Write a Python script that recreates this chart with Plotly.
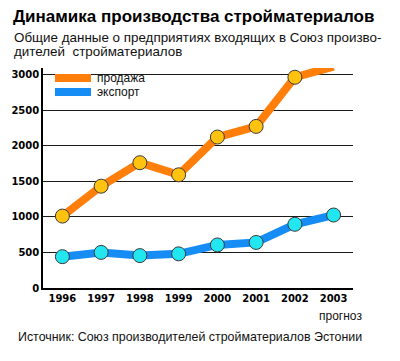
import plotly.graph_objects as go

years = ["1996", "1997", "1998", "1999", "2000", "2001", "2002", "2003"]
sales = [1010, 1430, 1760, 1590, 2120, 2270, 2960, 3110]
export = [440, 500, 455, 480, 605, 640, 895, 1025]
y_ticks = [0, 500, 1000, 1500, 2000, 2500, 3000]
series_names = ["продажа", "экспорт"]

title = "Динамика производства стройматериалов"
subtitle_lines = ["Общие данные о предприятиях входящих в Союз произво-",
                  "дителей  стройматериалов"]
source = "Источник: Союз производителей стройматериалов Эстонии"
forecast = "прогноз"

ORANGE = "#FF7F0A"
GOLD = "#FFC20E"
BLUE = "#168CF5"
CYAN = "#22E6F0"

OFF = 8  # page body margin
W, H = 400 - OFF, 361 - OFF
# target pixel positions in the 400x361 window
PL, PR, PT, PB = 43, 353, 68, 288.3
L, R, T, B = PL - OFF, W - (PR - OFF), PT - OFF, H - (PB - OFF)
pw, ph = W - L - R, H - T - B

def px(x):
    return (x - OFF - L) / pw

def py(y):
    return (H - B - (y - OFF)) / ph

fig = go.Figure()
fig.add_trace(go.Scatter(x=years, y=sales, mode="lines+markers", name=series_names[0],
                         showlegend=False,
                         line=dict(color=ORANGE, width=8),
                         marker=dict(size=14, color=GOLD, line=dict(color="#3a3a3a", width=1)),
                         cliponaxis=False))
fig.add_trace(go.Scatter(x=years, y=export, mode="lines+markers", name=series_names[1],
                         showlegend=False,
                         line=dict(color=BLUE, width=8),
                         marker=dict(size=14, color=CYAN, line=dict(color="#3a3a3a", width=1)),
                         cliponaxis=False))

tickfont = dict(family="DejaVu Sans", size=10, color="black", weight="bold")
fig.update_layout(
    width=W, height=H,
    margin=dict(l=L, r=R, t=T, b=B, autoexpand=False),
    paper_bgcolor="white", plot_bgcolor="white",
    showlegend=False,
    xaxis=dict(type="category", range=[-0.5, 7.5], showgrid=False, zeroline=False,
               showline=True, linecolor="black", linewidth=2, ticks="",
               tickfont=tickfont, fixedrange=True, automargin=False),
    yaxis=dict(range=[0, 3090], tickvals=y_ticks, showgrid=True, gridcolor="#1a1a1a",
               gridwidth=1, zeroline=False, showline=True, linecolor="black", linewidth=1.5,
               ticks="", tickfont=tickfont, fixedrange=True, automargin=False),
    font=dict(family="Liberation Sans, Arial"),
)

# legend swatches + labels
for i, (name, col) in enumerate(zip(series_names, [ORANGE, BLUE])):
    yc = 78 + 14 * i
    fig.add_shape(type="rect", xref="paper", yref="paper",
                  x0=px(55), x1=px(91), y0=py(yc + 4), y1=py(yc - 4),
                  fillcolor=col, line=dict(width=0))
    fig.add_annotation(text=name, xref="paper", yref="paper",
                       x=px(95), y=py(yc), xanchor="left", yanchor="middle", showarrow=False,
                       font=dict(family="Liberation Sans, Arial", size=12, color="#111"))

fig.add_annotation(text=title, xref="paper", yref="paper",
                   x=px(11), y=py(16), xanchor="left", yanchor="middle", showarrow=False,
                   font=dict(family="Liberation Sans, Arial", size=17, color="black",
                             weight="bold"))
for i, line in enumerate(subtitle_lines):
    fig.add_annotation(text=line, xref="paper", yref="paper",
                       x=px(12), y=py(37.5 + 14 * i), xanchor="left", yanchor="middle",
                       showarrow=False,
                       font=dict(family="Liberation Sans, Arial", size=13.4, color="#111"))
fig.add_annotation(text=forecast, xref="paper", yref="paper",
                   x=px(364), y=py(316), xanchor="right", yanchor="middle", showarrow=False,
                   font=dict(family="Liberation Sans, Arial", size=12, color="#111"))
fig.add_annotation(text=source, xref="paper", yref="paper",
                   x=px(16), y=py(337), xanchor="left", yanchor="middle", showarrow=False,
                   font=dict(family="Liberation Sans, Arial", size=12.4, color="#111"))

fig.write_html("out.html")
